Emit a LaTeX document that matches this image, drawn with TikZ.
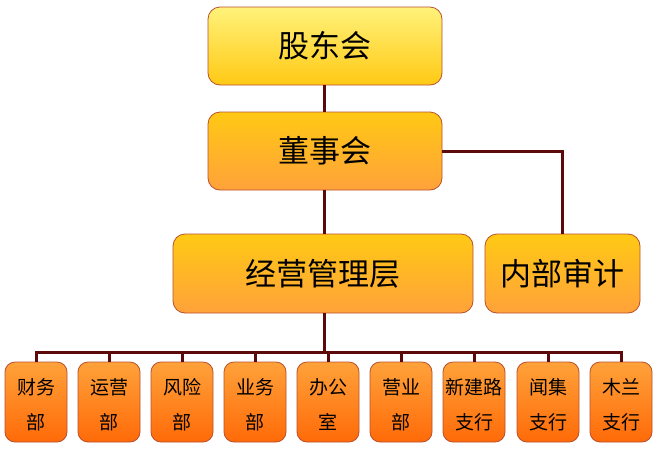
\documentclass[tikz,border=0pt]{standalone}
\usepackage{fontspec}
\newfontfamily\cjk{Noto Sans CJK SC}
\usepackage{tikz}
\usetikzlibrary{positioning}
\definecolor{linkred}{HTML}{5C0A0A}
\definecolor{boxedge}{HTML}{B8502E}
\definecolor{paleyellow}{HTML}{FFF27A}
\definecolor{gold}{HTML}{FFC914}
\definecolor{lightorange}{HTML}{FFA23A}
\definecolor{deeporange}{HTML}{FF6A08}

\begin{document}
\begin{tikzpicture}[x=1pt,y=-1pt,line width=3pt,draw=linkred]
  \tikzstyle{every node}=[draw=boxedge,line width=0.8pt,inner sep=0pt,
                          text=black,font=\cjk]
  \tikzstyle{topbox}=[rounded corners=12pt,top color=paleyellow,bottom color=gold,
                      minimum width=234pt,minimum height=78pt,font=\cjk\fontsize{31}{31}\selectfont]
  \tikzstyle{midbox}=[rounded corners=12pt,top color=gold,bottom color=lightorange,
                      minimum height=79pt,font=\cjk\fontsize{31}{31}\selectfont]
  \tikzstyle{dept}=[rounded corners=10pt,top color=lightorange,bottom color=deeporange,
                    minimum width=62pt,minimum height=80pt,align=center,text height=56pt,
                    font=\cjk\fontsize{19}{35}\selectfont]

  \useasboundingbox (0,0) rectangle (659,448);

  \node[topbox]                    (gd)  at (325,46)    {股东会};
  \node[topbox,top color=gold,bottom color=lightorange]
                                   (dsh) at (325,151)   {董事会};
  \node[midbox,minimum width=300pt] (jy)  at (323,273.5) {经营管理层};
  \node[midbox,minimum width=155pt] (sj)  at (562.5,273.5) {内部审计};

  \node[dept] (b1) at (36,402)  {财务\\部};
  \node[dept] (b2) at (109,402) {运营\\部};
  \node[dept] (b3) at (182,402) {风险\\部};
  \node[dept] (b4) at (255,402) {业务\\部};
  \node[dept] (b5) at (328,402) {办公\\室};
  \node[dept] (b6) at (401,402) {营业\\部};
  \node[dept] (b7) at (474,402) {新建路\\支行};
  \node[dept] (b8) at (548,402) {闻集\\支行};
  \node[dept] (b9) at (621,402) {木兰\\支行};

  \coordinate (bar) at (324,352);

  \draw (gd.south -| bar) -- (dsh.north -| bar);
  \draw (dsh.south -| bar) -- (jy.north -| bar);
  \draw (dsh.east) -| (sj.north);
  \draw (jy.south -| bar) -- (bar);
  \draw (b1.north) |- (bar) -| (b9.north);
  \foreach \n in {2,...,8}
    \draw (b\n.north) -- (b\n.north |- bar);
\end{tikzpicture}
\end{document}
